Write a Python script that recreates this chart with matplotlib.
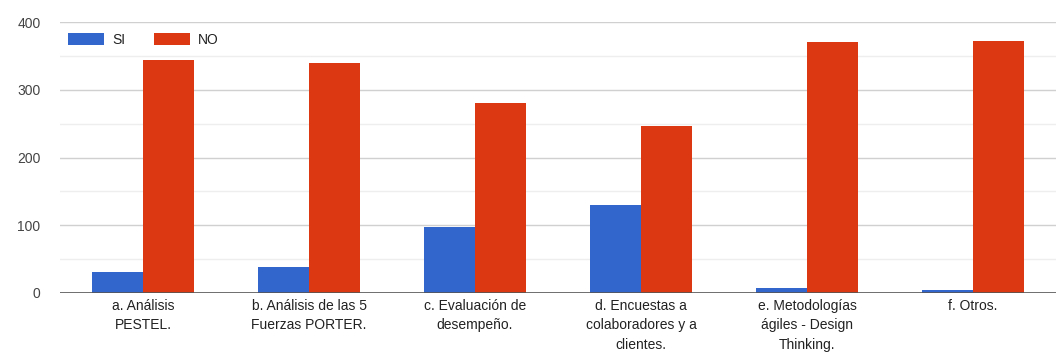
import matplotlib
matplotlib.use("Agg")
import matplotlib.pyplot as plt
import numpy as np

categories = [
    "a. Análisis\nPESTEL.",
    "b. Análisis de las 5\nFuerzas PORTER.",
    "c. Evaluación de\ndesempeño.",
    "d. Encuestas a\ncolaboradores y a\nclientes.",
    "e. Metodologías\nágiles - Design\nThinking.",
    "f. Otros.",
]
si_values = [31, 38, 97, 130, 8, 4]
no_values = [344, 339, 280, 246, 370, 372]
series_names = ["SI", "NO"]
y_ticks = [0, 100, 200, 300, 400]

plt.rcParams["font.family"] = ["Liberation Sans", "DejaVu Sans"]

fig = plt.figure(figsize=(10.64, 3.59), dpi=100)
ax = fig.add_axes([60 / 1064, 1 - 293 / 359, 996 / 1064, 271 / 359])

x = np.arange(len(categories))
w = 0.31
ax.bar(x - w / 2, si_values, width=w, color="#3366CC", label=series_names[0], zorder=3)
ax.bar(x + w / 2, no_values, width=w, color="#DC3912", label=series_names[1], zorder=3)

ax.set_xlim(-0.5, len(categories) - 0.5)
ax.set_ylim(0, 400)

# major and minor gridlines
for v in range(50, 401, 50):
    ax.axhline(v, color="#d0d0d0" if v % 100 == 0 else "#eeeeee", lw=1, zorder=1)
ax.axhline(0, color="#555555", lw=1.2, zorder=4)

ax.set_yticks(y_ticks)
ax.set_yticklabels([str(t) for t in y_ticks], color="#444444", fontsize=10)
ax.set_xticks(x)
ax.set_xticklabels(categories, color="#222222", fontsize=10, linespacing=1.5)
ax.tick_params(axis="both", length=0)
ax.tick_params(axis="x", pad=4)
ax.tick_params(axis="y", pad=14)
for s in ax.spines.values():
    s.set_visible(False)

leg = ax.legend(loc="upper left", bbox_to_anchor=(0.0, 0.99), ncol=2, frameon=False,
                fontsize=10, handlelength=2.6, handleheight=0.9, columnspacing=2.0,
                handletextpad=0.6, borderaxespad=0.2)
for t in leg.get_texts():
    t.set_color("#222222")

fig.savefig("out.png", dpi=100, facecolor="white")
